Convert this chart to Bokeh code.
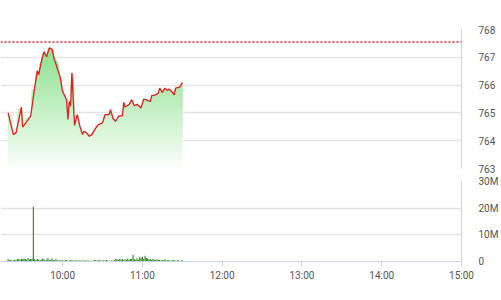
import numpy as np
from bokeh.plotting import figure
from bokeh.layouts import column
from bokeh.models import Range1d, FixedTicker, Span
from bokeh.embed import file_html
from bokeh.resources import INLINE

# ---- data ----
price_times = ["9:19", "9:23", "9:25", "9:29", "9:30", "9:36", "9:39", "9:41", "9:42", "9:44",
               "9:46", "9:48", "9:50", "9:52", "9:54", "9:58", "10:00", "10:03", "10:04", "10:05",
               "10:06", "10:07", "10:09", "10:11", "10:13", "10:15", "10:16", "10:18", "10:20", "10:22",
               "10:25", "10:27", "10:30", "10:32", "10:35", "10:36", "10:38", "10:40", "10:42", "10:45",
               "10:46", "10:47", "10:50", "10:52", "10:54", "10:56", "10:59", "11:01", "11:03", "11:06",
               "11:07", "11:10", "11:12", "11:13", "11:15", "11:17", "11:19", "11:20", "11:22", "11:24",
               "11:25", "11:28", "11:30"]
price_values = [765.00, 764.22, 764.29, 765.20, 764.49, 764.88, 765.90, 766.52, 766.37, 766.84,
                767.20, 767.02, 767.34, 767.29, 766.90, 766.31, 765.77, 765.47, 764.76, 765.41,
                765.24, 766.43, 764.55, 764.94, 764.52, 764.22, 764.34, 764.28, 764.16, 764.22,
                764.46, 764.58, 764.64, 764.94, 764.94, 765.12, 764.79, 764.70, 764.88, 764.90,
                765.38, 765.21, 765.30, 765.47, 765.26, 765.31, 765.18, 765.50, 765.47, 765.41,
                765.62, 765.65, 765.71, 765.89, 765.74, 765.89, 765.81, 765.86, 765.77, 765.65,
                765.89, 765.93, 766.09]
reference_level = 767.55

volume_start = "9:19"
volume_millions = [
    0.9, 0.5, 0.6, 0.4, 0.5, 0.7, 0.6, 0.8, 0.9, 0.7,
    1.0, 0.8, 1.1, 0.9, 0.7, 1.2, 0.8, 0.9, 1.0, 20.5,
    0.8, 0.6, 0.9, 0.7, 0.5, 0.6, 1.0, 0.8, 0.4, 0.6,
    1.3, 0.5, 0.7, 1.1, 0.6, 0.4, 0.8, 0.5, 0.3, 0.6,
    0.4, 0.5, 0.3, 0.6, 0.5, 0.4, 0.3, 0.6, 0.5, 0.4,
    0.3, 0.5, 0.4, 0.3, 0.5, 0.4, 0.2, 0.5, 0.4, 0.3,
    0.4, 0.3, 0.2, 0.4, 0.3, 0.5, 0.6, 0.3, 0.4, 0.7,
    0.3, 0.4, 0.5, 0.3, 0.6, 0.4, 0.3, 0.2, 0.4, 0.3,
    0.5, 0.9, 0.8, 0.6, 1.0, 0.7, 0.9, 0.5, 0.8, 0.6,
    1.1, 0.7, 0.9, 1.0, 2.4, 0.8, 0.7, 1.2, 0.6, 1.6,
    1.4, 1.8, 0.9, 2.2, 1.3, 1.1, 0.8, 0.9, 0.6, 1.0,
    0.7, 0.5, 0.8, 0.6, 0.7, 0.4, 0.6, 0.5, 0.8, 0.4,
    0.5, 0.6, 0.3, 0.4, 0.6, 0.5, 0.3, 0.4, 0.5, 0.3,
    0.4, 0.5]

price_ticks = [763, 764, 765, 766, 767, 768]
volume_ticks = [0, 10e6, 20e6, 30e6]
volume_tick_labels = ["0", "10M", "20M", "30M"]
time_ticks = ["10:00", "11:00", "12:00", "13:00", "14:00", "15:00"]


def to_min(s):
    h, m = s.split(":")
    return (int(h) - 9) * 60 + int(m)


px = np.array([to_min(t) for t in price_times], dtype=float)
py = np.array(price_values)
vx = to_min(volume_start) + np.arange(len(volume_millions))
vy = np.array(volume_millions) * 1e6
tick_min = [to_min(t) for t in time_ticks]

FONT = "Roboto"
LABEL_COLOR = "#555555"
AXIS_COLOR = "#c9d5e2"
GRID_COLOR = "#e4e4e4"

xr = Range1d(13.3, 360)

top = figure(width=501, height=175, x_range=xr, y_range=Range1d(763, 768),
             output_backend="svg", toolbar_location=None, x_axis_location=None,
             y_axis_location="right", min_border_left=0, min_border_right=33,
             min_border_top=29, min_border_bottom=7)
top.outline_line_color = None
top.xgrid.grid_line_color = None
top.ygrid.grid_line_color = GRID_COLOR
top.ygrid.grid_line_width = 1.5
top.yaxis.ticker = FixedTicker(ticks=price_ticks)
top.yaxis.axis_line_color = AXIS_COLOR
top.yaxis.major_tick_line_color = None
top.yaxis.minor_tick_line_color = None
top.yaxis.major_label_standoff = 11
top.yaxis.major_label_text_font = FONT
top.yaxis.major_label_text_font_size = "10px"
top.yaxis.major_label_text_color = LABEL_COLOR

# gradient fill made from stacked layers
levels = np.linspace(763.0, 767.4, 45)
c_top = np.array([138, 224, 138])
c_bot = np.array([250, 254, 250])
for lv in levels:
    f = (lv - 763.0) / (767.4 - 763.0)
    c = (c_bot + (c_top - c_bot) * f).astype(int)
    col = "#%02x%02x%02x" % tuple(c)
    top.varea(x=px, y1=np.full_like(py, lv), y2=np.maximum(py, lv), fill_color=col, fill_alpha=1.0)

top.line(px, py, line_color="#e11d1d", line_width=1.3)
top.add_layout(Span(location=reference_level, dimension="width", line_color="#e02020",
                    line_width=1.5, line_dash="2 2"))

bot = figure(width=501, height=125, x_range=xr, y_range=Range1d(0, 30e6),
             output_backend="svg", toolbar_location=None, y_axis_location="right",
             min_border_left=0, min_border_right=33, min_border_top=6, min_border_bottom=39)
bot.outline_line_color = None
bot.xgrid.grid_line_color = None
bot.ygrid.grid_line_color = GRID_COLOR
bot.ygrid.grid_line_width = 1.5
bot.vbar(x=vx, top=vy, width=0.8, fill_color="#1e7d1e", line_color=None)

bot.yaxis.ticker = FixedTicker(ticks=volume_ticks)
bot.yaxis.major_label_overrides = {v: l for v, l in zip(volume_ticks, volume_tick_labels)}
bot.yaxis.axis_line_color = AXIS_COLOR
bot.yaxis.major_tick_line_color = None
bot.yaxis.minor_tick_line_color = None
bot.yaxis.major_label_standoff = 11
bot.yaxis.major_label_text_font = FONT
bot.yaxis.major_label_text_font_size = "10px"
bot.yaxis.major_label_text_color = LABEL_COLOR

bot.xaxis.ticker = FixedTicker(ticks=tick_min)
bot.xaxis.major_label_overrides = {m: t for m, t in zip(tick_min, time_ticks)}
bot.xaxis.axis_line_color = AXIS_COLOR
bot.xaxis.major_tick_line_color = AXIS_COLOR
bot.xaxis.major_tick_in = 0
bot.xaxis.major_tick_out = 5
bot.xaxis.minor_tick_line_color = None
bot.xaxis.major_label_standoff = 3
bot.xaxis.major_label_text_font = FONT
bot.xaxis.major_label_text_font_size = "10px"
bot.xaxis.major_label_text_color = LABEL_COLOR

layout = column(top, bot, spacing=0)
open("out.html", "w").write(file_html(layout, INLINE))
